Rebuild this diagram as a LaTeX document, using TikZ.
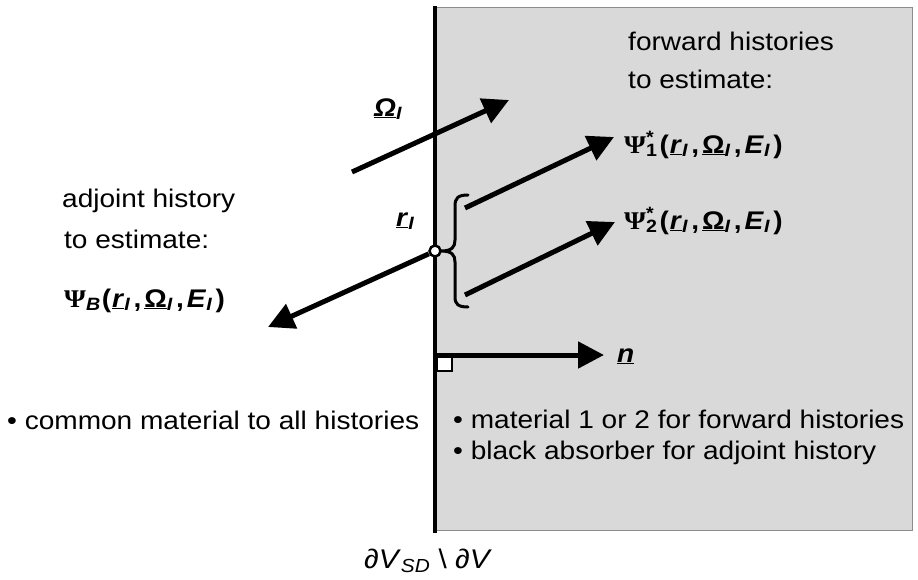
\documentclass[tikz,border=0pt]{standalone}
\usepackage{fontspec}
\setmainfont{Liberation Sans}[FakeStretch=1.1]
\newfontfamily\psifont{Liberation Serif}[FakeStretch=1.1]
\usetikzlibrary{arrows.meta}
\newcommand{\bi}[1]{\textbf{\textit{#1}}}
\newcommand{\ulbi}[1]{\underline{\bi{#1}}}
\newcommand{\subI}{\textsubscript{\bi{I}}}
\newcommand{\argsI}{\textbf{(}\kern1pt\ulbi{r}\subI\kern3pt\textbf{,}\kern3pt\underline{\textbf{Ω}}\subI\kern3pt\textbf{,}\kern3pt\bi{E}\subI\kern3pt\textbf{)}}
\newcommand{\psisym}{{\psifont\bfseries Ψ}}
\tikzset{
  txt/.style={font=\fontsize{25.5}{30}\selectfont, inner sep=0pt, anchor=base west},
  bigarrow/.style={line width=5pt, -{Triangle[length=26pt,width=26pt]}},
}
\begin{document}
\begin{tikzpicture}[x=1pt,y=-1pt]
\useasboundingbox (0,0) rectangle (918,579);
% region
\fill[black!15, draw=black!45, line width=0.8pt] (435,7) rectangle (912,530);
\draw[line width=4pt] (435,6) -- (435,533);
% right-angle square
\draw[line width=2.5pt, fill=white] (437,356) rectangle (452,371);
% coordinates
\coordinate (omS) at (352,172);
\coordinate (omE) at (509,100);
\coordinate (f1S) at (465,208);
\coordinate (f1E) at (614,137);
\coordinate (f2S) at (465,295);
\coordinate (f2E) at (615,222);
\coordinate (adjE) at (268,327);
\coordinate (nS) at (437,355);
\coordinate (nE) at (604,355);
% arrows
\draw[bigarrow] (omS) -- (omE);
\draw[bigarrow] (f1S) -- (f1E);
\draw[bigarrow] (f2S) -- (f2E);
\draw[bigarrow] (nS) -- (nE);
% point r_I
\node[circle, draw, line width=2.5pt, fill=white, minimum size=11pt, inner sep=0pt] (ri) at (435,251) {};
\draw[bigarrow] (ri) -- (adjE);
% brace
\draw[line width=3pt, line cap=round] (468,195) .. controls (458,195) and (455,198) .. (455,206) -- (455,240)
  .. controls (455,247) and (452,251) .. (441,251)
  .. controls (452,251) and (455,255) .. (455,262) -- (455,297)
  .. controls (455,304) and (458,307) .. (468,307);
% texts
\node[txt] (fh1) at (628,50) {forward histories};
\node[txt] (fh2) at (628,88) {to estimate:};
\node[txt] (psi1) at (624,153) {\psisym\rlap{\textsuperscript{\textbf{*}}}\textsubscript{\textbf{1}}\kern2pt\argsI};
\node[txt] (psi2) at (624,229) {\psisym\rlap{\textsuperscript{\textbf{*}}}\textsubscript{\textbf{2}}\kern2pt\argsI};
\node[txt] (ah1) at (62,207) {adjoint history};
\node[txt] (ah2) at (64,248) {to estimate:};
\node[txt] (psib) at (64,307) {\psisym\textsubscript{\bi{B}}\kern1pt\argsI};
\node[txt] (omlab) at (374,116) {\underline{\bi{Ω}}\subI};
\node[txt] (rlab) at (396,226) {\ulbi{r}\subI};
\node[txt] (nlab) at (617,362) {\ulbi{n}};
\node[txt] (com) at (7,429) {• common material to all histories};
\node[txt] (m1) at (453,428) {• material 1 or 2 for forward histories};
\node[txt] (m2) at (453,459) {• black absorber for adjoint history};
\node[txt, font=\fontsize{27}{30}\selectfont] (bd) at (364,568) {\textit{∂V}\textsubscript{\textit{SD}} \textbackslash{} \textit{∂V}};
\end{tikzpicture}
\end{document}
